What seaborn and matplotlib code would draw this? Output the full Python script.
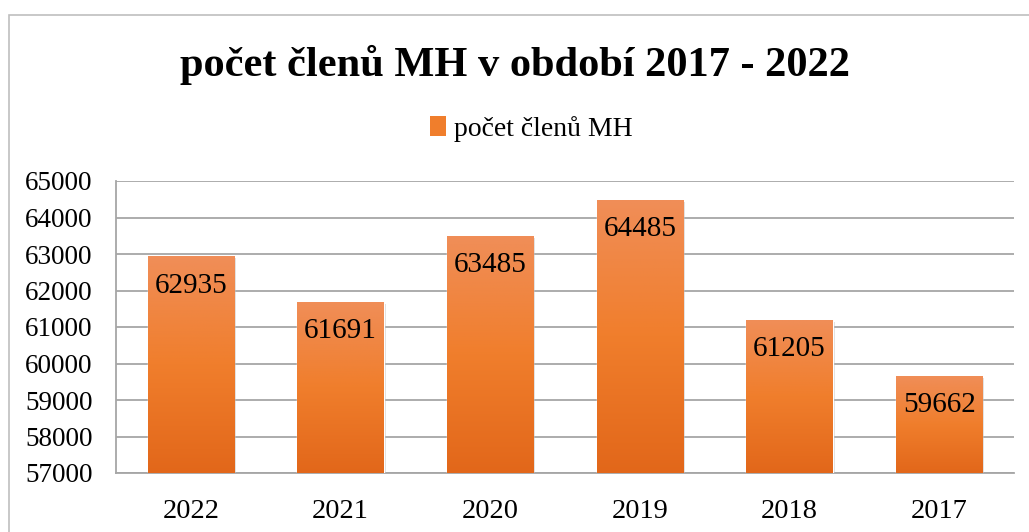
import numpy as np
import pandas as pd
import seaborn as sns
import matplotlib
matplotlib.use("Agg")
import matplotlib.pyplot as plt
from matplotlib.colors import LinearSegmentedColormap
from matplotlib.patches import Patch, Rectangle
from matplotlib import patheffects as pe

# Data
years = ["2022", "2021", "2020", "2019", "2018", "2017"]
members = [62935, 61691, 63485, 64485, 61205, 59662]
series_name = "počet členů MH"
title = "počet členů MH v období 2017 - 2022"
y_ticks = [57000, 58000, 59000, 60000, 61000, 62000, 63000, 64000, 65000]

df = pd.DataFrame({"rok": years, "pocet": members})

sns.set_theme(style="white")
plt.rcParams["font.family"] = ["Liberation Serif", "DejaVu Serif"]

W, H = 1029, 532
fig = plt.figure(figsize=(W / 100, H / 100), dpi=100)
ax = fig.add_axes([116 / W, 1 - 473 / H, (1014 - 116) / W, (473 - 181) / H])

bar_top = "#F08E58"
bar_mid = "#F07E2C"
bar_bot = "#E2671A"

sns.barplot(data=df, x="rok", y="pocet", order=years, color=bar_mid,
            width=0.575, saturation=1, ax=ax, zorder=3)

ax.set_ylim(y_ticks[0], y_ticks[-1])
ax.set_yticks(y_ticks)
ax.set_yticklabels([str(t) for t in y_ticks])
ax.set_xlabel("")
ax.set_ylabel("")

# Vertical gradient fill for each bar, plus a soft shadow
cmap = LinearSegmentedColormap.from_list("bar", [bar_bot, bar_mid, bar_top])
grad = np.linspace(0, 1, 256).reshape(-1, 1)
ymin, ymax = ax.get_ylim()
for bar in ax.patches:
    x0 = bar.get_x()
    w = bar.get_width()
    top = bar.get_height()
    bar.set_path_effects([pe.SimplePatchShadow(offset=(1.5, -1.5), shadow_rgbFace="#999999", alpha=0.35),
                          pe.Normal()])
    img = ax.imshow(grad, cmap=cmap, aspect="auto", origin="lower",
                    extent=[x0, x0 + w, ymin, top], zorder=4)
    img.set_clip_path(bar)

# Value labels inside the top of each bar
for i, v in enumerate(members):
    ax.annotate(str(v), xy=(i, v), xytext=(0, -21), textcoords="offset points",
                ha="center", va="center", fontsize=21, color="black", zorder=6)

ax.set_xlim(-0.5, len(years) - 0.5)

# Grid and frame
ax.yaxis.grid(True, color="#A6A6A6", linewidth=1.3, zorder=0)
ax.set_axisbelow(True)
for side in ["top", "right"]:
    ax.spines[side].set_visible(False)
for side in ["left", "bottom"]:
    ax.spines[side].set_color("#A6A6A6")
    ax.spines[side].set_linewidth(1.3)
ax.tick_params(axis="both", length=0, colors="black")
ax.tick_params(axis="y", pad=17, labelsize=19.5)
ax.tick_params(axis="x", pad=19, labelsize=20.5)

# Title and legend
fig.text(0.5, 1 - 65 / H, title, ha="center", va="center",
         fontsize=30.5, fontweight="bold", color="black")
handle = Patch(facecolor=bar_mid, edgecolor="none")
fig.legend([handle], [series_name], loc="center",
           bbox_to_anchor=(0.5 + 17 / W, 1 - 129 / H),
           frameon=False, fontsize=20, handlelength=0.55, handleheight=0.75,
           handletextpad=0.3, labelcolor="black")

# Outer chart border
fig.patches.append(Rectangle((9 / W, -0.05), 1.1, 1 - 15 / H + 0.05,
                             transform=fig.transFigure, fill=False,
                             edgecolor="#BFBFBF", linewidth=1.2))

fig.savefig("out.png", dpi=100, facecolor="white")
